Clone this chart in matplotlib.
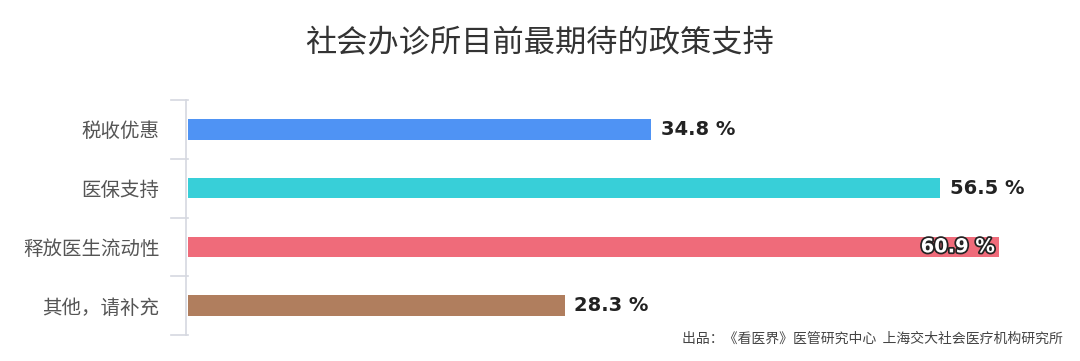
import matplotlib
matplotlib.use("Agg")
import matplotlib.pyplot as plt
import matplotlib.patheffects as pe

plt.rcParams["font.family"] = ["Noto Sans CJK SC", "DejaVu Sans"]

categories = ["税收优惠", "医保支持", "释放医生流动性", "其他，请补充"]
values = [34.8, 56.5, 60.9, 28.3]
colors = ["#4F93F4", "#38CFD8", "#EF6B7A", "#B07E5E"]
title = "社会办诊所目前最期待的政策支持"
source = "出品：《看医界》医管研究中心  上海交大社会医疗机构研究所"

fig = plt.figure(figsize=(10.8, 3.61), dpi=100)
# axes: x from 188px to 1080px, y from 100px to 335px (top-based)
ax = fig.add_axes([188 / 1080, 1 - 335 / 361, (1080 - 188) / 1080, (335 - 100) / 361])

ypos = list(range(len(categories)))
ax.barh(ypos, values, height=0.35, color=colors)
ax.set_ylim(len(categories) - 0.5, -0.5)
ax.set_xlim(0, 67)

for i, v in enumerate(values):
    label = f"{v:.1f} %"
    if v == max(values):
        ax.text(v - 0.3, i, label, ha="right", va="center", fontsize=14,
                fontweight="bold", color="white", family="DejaVu Sans",
                path_effects=[pe.withStroke(linewidth=2.5, foreground="#222222")])
    else:
        ax.text(v + 0.7, i, label, ha="left", va="center", fontsize=14,
                fontweight="bold", color="#222222", family="DejaVu Sans")

ax.set_yticks(ypos)
ax.set_yticklabels(categories)
ax.tick_params(axis="y", length=0, pad=19, labelsize=14, labelcolor="#555555")
for b in [-0.5, 0.5, 1.5, 2.5, 3.5]:
    ax.plot([-1.3, 0], [b, b], color="#D5D8E0", lw=1.2, clip_on=False)
ax.set_xticks([])
for s in ["top", "right", "bottom"]:
    ax.spines[s].set_visible(False)
ax.spines["left"].set_color("#D5D8E0")
ax.spines["left"].set_linewidth(1.2)
ax.spines["left"].set_position(("data", -0.15))

fig.text(0.5, 1 - 43 / 361, title, ha="center", va="center", fontsize=22.5, color="#333333")
fig.text(1063 / 1080, 1 - 339 / 361, source, ha="right", va="center", fontsize=10, color="#444444")

fig.savefig("out.png", dpi=100)
